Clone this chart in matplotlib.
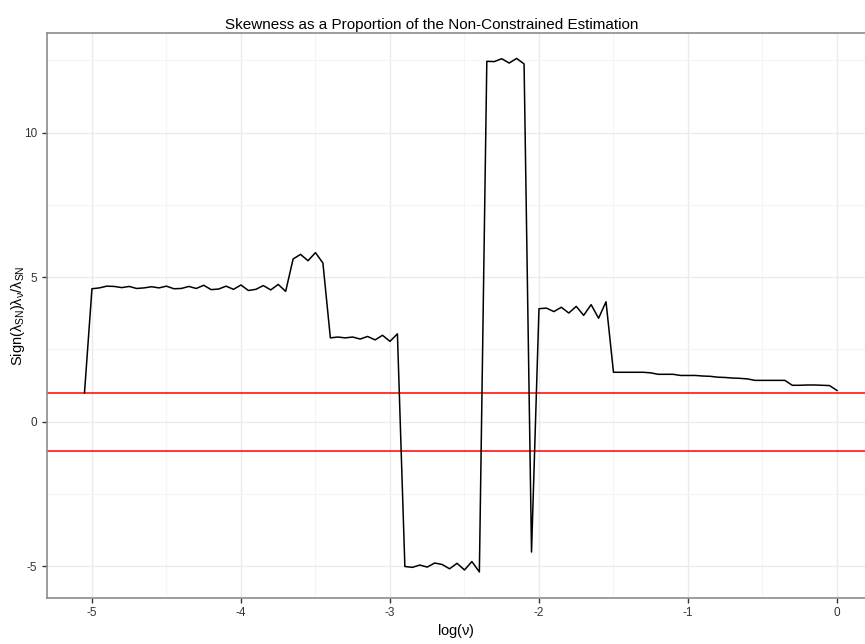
import numpy as np
import matplotlib
matplotlib.use("Agg")
import matplotlib.pyplot as plt
from matplotlib.ticker import MultipleLocator

log_nu = [round(-5.05 + 0.05 * i, 2) for i in range(102)]
ratio = [
    1.00,
    4.60, 4.63, 4.69, 4.68, 4.64, 4.68, 4.61, 4.63, 4.67, 4.63,
    4.69, 4.60, 4.61, 4.68, 4.61, 4.72, 4.57, 4.59, 4.69, 4.58,
    4.73, 4.54, 4.58, 4.71, 4.56, 4.75, 4.51,
    5.63, 5.79, 5.57, 5.85, 5.49,
    2.90, 2.93, 2.90, 2.93, 2.86, 2.95, 2.83, 2.99, 2.78, 3.04,
    -5.01, -5.04, -4.96, -5.03, -4.89, -4.94, -5.09, -4.90, -5.13, -4.84, -5.20,
    12.47, 12.46, 12.56, 12.41, 12.57, 12.38,
    -4.51,
    3.91, 3.93, 3.81, 3.96, 3.76, 3.99, 3.68, 4.05, 3.58, 4.15,
    1.71, 1.71, 1.71, 1.71, 1.71, 1.69, 1.64, 1.64, 1.64, 1.60,
    1.60, 1.60, 1.58, 1.57, 1.54, 1.53, 1.51, 1.50, 1.48, 1.43,
    1.43, 1.43, 1.43, 1.43, 1.26, 1.26, 1.27, 1.27, 1.26, 1.25,
    1.08,
]
ref_lines = [1, -1]
title = "Skewness as a Proportion of the Non-Constrained Estimation"

plt.rcParams['font.family'] = ['Liberation Sans Narrow', 'Liberation Sans', 'DejaVu Sans']
plt.rcParams['mathtext.fontset'] = 'custom'
plt.rcParams['mathtext.rm'] = 'Liberation Sans'
plt.rcParams['mathtext.it'] = 'Liberation Sans'

fig = plt.figure(figsize=(8.65, 6.44), dpi=100)
ax = fig.add_axes([46.5 / 865, (644 - 597.7) / 644, (865 - 46.5) / 865, (597.7 - 32.7) / 644])

ax.set_xlim(-5.305, 0.188)
ax.set_ylim(-6.09, 13.46)

ax.xaxis.set_major_locator(MultipleLocator(1))
ax.xaxis.set_minor_locator(MultipleLocator(0.5))
ax.yaxis.set_major_locator(MultipleLocator(5))
ax.yaxis.set_minor_locator(MultipleLocator(2.5))
ax.grid(which='major', color='#EBEBEB', linewidth=1.0)
ax.grid(which='minor', color='#F5F5F5', linewidth=0.8)
ax.set_axisbelow(True)

for y in ref_lines:
    ax.axhline(y, color='#FF0000', linewidth=1.1, zorder=2)
ax.plot(log_nu, ratio, color='black', linewidth=1.1, zorder=3)

for s in ['left', 'bottom', 'top']:
    ax.spines[s].set_color('#8C8C8C')
    ax.spines[s].set_linewidth(1.2)
ax.spines['right'].set_visible(False)

ax.tick_params(which='major', length=3.5, width=1, color='#333333', labelsize=8.5, labelcolor='#333333', pad=3)
ax.tick_params(which='minor', length=0)

ax.set_xticks([-5, -4, -3, -2, -1, 0])
ax.set_xticklabels(['-5', '-4', '-3', '-2', '-1', '0'])
ax.set_yticks([-5, 0, 5, 10])
ax.set_yticklabels(['-5', '0', '5', '10'])

ax.set_xlabel(r'log($\nu$)', fontsize=10.5, labelpad=2)
ax.set_ylabel(r'Sign($\lambda_{\mathrm{SN}}$)$\lambda_{\nu}$/$\lambda_{\mathrm{SN}}$', fontsize=10.5, labelpad=-2)
ax.set_title(title, fontsize=11, pad=3, x=(432 - 46.5) / (865 - 46.5))

fig.savefig('out.png', dpi=100)
